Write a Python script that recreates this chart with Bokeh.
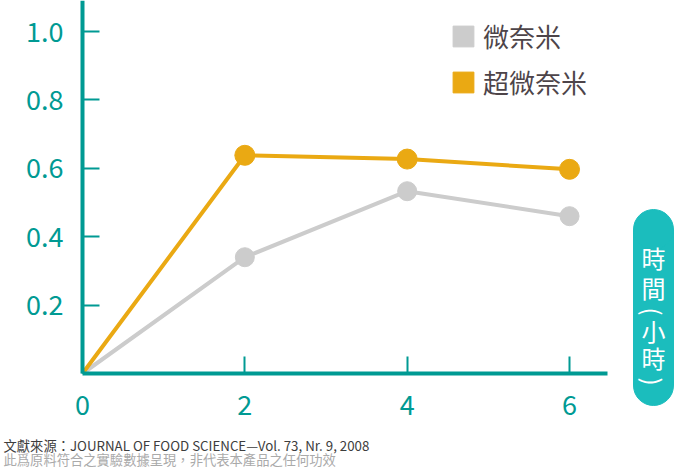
from math import pi
from bokeh.plotting import figure
from bokeh.models import Range1d, Legend, LegendItem, PrintfTickFormatter
from bokeh.core.properties import value
from bokeh.embed import file_html
from bokeh.resources import INLINE

hours = [0, 2, 4, 6]
nano = [0, 0.34, 0.533, 0.46]
ultra_nano = [0, 0.638, 0.627, 0.597]
x_ticks = [0, 2, 4, 6]
y_ticks = [0.2, 0.4, 0.6, 0.8, 1.0]
series_names = ["微奈米", "超微奈米"]
axis_title = ["時", "間", "(", "小", "時", ")"]
notes = ["文獻來源：JOURNAL OF FOOD SCIENCE—Vol. 73, Nr. 9, 2008",
         "此爲原料符合之實驗數據呈現，非代表本產品之任何功效"]

TEAL = "#009a93"
PILL = "#1bbdbd"
ORANGE = "#eaa913"
GRAY = "#cccccc"
FONT = "Noto Sans CJK TC"

W, H = 674, 470
X0, Y0 = 82, 373          # pixel position of the origin
PX_X, PX_Y = 81.17, 342.0  # pixels per unit


def dx(px):
    return (px - X0) / PX_X


def dy(py):
    return (Y0 - py) / PX_Y


# the frame fills the whole canvas; axes sit at the origin
p = figure(width=W, height=H, x_range=Range1d(dx(0), dx(W)), y_range=Range1d(dy(H), dy(0)),
           output_backend="svg", toolbar_location=None, min_border=0)
p.outline_line_color = None
p.grid.visible = False

for ax in (p.xaxis, p.yaxis):
    ax.fixed_location = 0
    ax.axis_line_color = TEAL
    ax.axis_line_width = 4
    ax.major_tick_line_color = TEAL
    ax.major_tick_line_width = 2
    ax.major_tick_in = 17
    ax.major_tick_out = 0
    ax.minor_tick_line_color = None
    ax.major_label_text_color = TEAL
    ax.major_label_text_font = FONT
    ax.major_label_text_font_size = "27px"

p.xaxis.bounds = (0, dx(607))
p.yaxis.bounds = (0, dy(0))
p.xaxis.ticker = x_ticks
p.yaxis.ticker = y_ticks
p.xaxis.formatter = PrintfTickFormatter(format="%d")
p.yaxis.formatter = PrintfTickFormatter(format="%.1f")
p.xaxis.major_label_standoff = 21
p.yaxis.major_label_standoff = 19

p.line(hours, nano, line_width=4, color=GRAY)
p.scatter(hours[1:], nano[1:], size=19, color=GRAY)
p.line(hours, ultra_nano, line_width=4, color=ORANGE)
p.scatter(hours[1:], ultra_nano[1:], size=20, color=ORANGE)

# hidden square glyphs, only used for the legend swatches
sw_gray = p.quad(left=hours, right=hours, bottom=nano, top=nano, color=GRAY, visible=False)
sw_orange = p.quad(left=hours, right=hours, bottom=ultra_nano, top=ultra_nano,
                   color=ORANGE, visible=False)
legend = Legend(items=[LegendItem(label=series_names[0], renderers=[sw_gray]),
                       LegendItem(label=series_names[1], renderers=[sw_orange])],
                location=(450, 370), padding=0, spacing=9, margin=0,
                glyph_width=26, glyph_height=26, label_height=26, label_standoff=7,
                label_text_font=FONT, label_text_font_size="26px",
                label_text_color="#4d4449", background_fill_alpha=0,
                border_line_alpha=0, inactive_fill_alpha=0)
p.add_layout(legend)

# x axis title in a rounded pill, written top to bottom
p.quad(left=[dx(633)], right=[dx(673)], top=[dy(229)], bottom=[dy(385)], color=PILL)
p.scatter(x=[dx(653)] * 2, y=[dy(229), dy(385)], size=40, color=PILL)
title_y = [257, 287, 311, 330, 357, 381]
title_angle = [0, 0, -pi / 2, 0, 0, -pi / 2]
p.text(x=[dx(653)] * len(axis_title), y=[dy(v) for v in title_y], text=axis_title,
       angle=title_angle, text_align="center", text_baseline="middle", text_color="white",
       text_font=value(FONT), text_font_size="24px")

# source notes
p.text(x=[dx(3)] * 2, y=[dy(445), dy(459)], text=notes, text_color=["#3d3d3d", "#aaaaaa"],
       text_baseline="middle", text_font=value(FONT), text_font_size="13.3px")

open("out.html", "w").write(file_html(p, INLINE))
